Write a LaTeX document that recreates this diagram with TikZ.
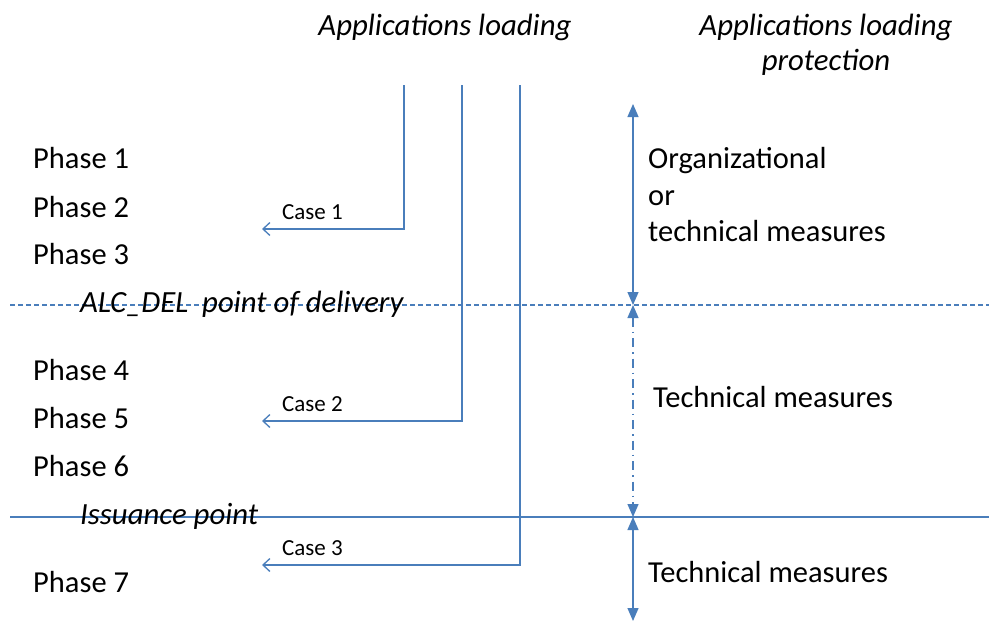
\documentclass[tikz,border=0pt]{standalone}
\usepackage{fontspec}
\setmainfont{Carlito}
\usetikzlibrary{arrows.meta}
\definecolor{lineblue}{RGB}{74,126,187}
\begin{document}
\begin{tikzpicture}[x=1pt,y=-1pt,
  big/.style={font=\fontsize{30.5}{36}\selectfont, inner sep=0pt, anchor=base west},
  bigc/.style={font=\fontsize{30.8}{36}\selectfont\itshape, inner sep=0pt, anchor=base},
  bigi/.style={font=\fontsize{30.8}{36}\selectfont\itshape, inner sep=0pt, anchor=base west},
  small/.style={font=\fontsize{23}{27}\selectfont, inner sep=0pt, anchor=base west},
  hline/.style={draw=lineblue, line width=1.6pt},
  caseline/.style={draw=lineblue, line width=1.3pt, -{Straight Barb[length=7pt,width=13pt]}},
  measure/.style={draw=lineblue, line width=1.3pt, {Triangle[length=13pt,width=11pt,fill=lineblue]}-{Triangle[length=13pt,width=11pt,fill=lineblue]}},
]
\useasboundingbox (0,0) rectangle (990,621);

% titles
\node[bigc] (t1) at (445,35) {Applications loading};
\node[bigc] (t2) at (826,35) {Applications loading};
\node[bigc] (t3) at (826,70) {protection};

% phases
\node[big] (p1) at (33,168) {Phase 1};
\node[big] (p2) at (33,217) {Phase 2};
\node[big] (p3) at (33,264) {Phase 3};
\node[big] (p4) at (33,380) {Phase 4};
\node[big] (p5) at (33,428) {Phase 5};
\node[big] (p6) at (33,476) {Phase 6};
\node[big] (p7) at (33,592) {Phase 7};

% horizontal separators
\coordinate (d1) at (10,305);
\coordinate (d2) at (989,305);
\coordinate (s1) at (10,517);
\coordinate (s2) at (989,517);
\draw[hline, dash pattern=on 5pt off 3pt] (d1) -- (d2);
\draw[hline] (s1) -- (s2);
\node[bigi] (alc) at (80,312) {ALC\_DEL\ \ point of delivery};
\node[bigi] (iss) at (80,524) {Issuance point};

% case connectors
\coordinate (a1) at (404,85);
\coordinate (a1c) at (404,229);
\coordinate (a1e) at (262,229);
\coordinate (a2) at (462,85);
\coordinate (a2c) at (462,421);
\coordinate (a2e) at (262,421);
\coordinate (a3) at (520,85);
\coordinate (a3c) at (520,565);
\coordinate (a3e) at (262,565);
\draw[caseline] (a1) -- (a1c) -- (a1e);
\draw[caseline] (a2) -- (a2c) -- (a2e);
\draw[caseline] (a3) -- (a3c) -- (a3e);
\node[small] (c1) at (282,219) {Case 1};
\node[small] (c2) at (282,411) {Case 2};
\node[small] (c3) at (282,555) {Case 3};

% protection arrows
\coordinate (m0) at (633,104);
\coordinate (m1) at (633,305);
\coordinate (m2) at (633,517);
\coordinate (m3) at (633,621);
\draw[measure] (m0) -- (m1);
\draw[measure, dash pattern=on 9pt off 5pt on 1.5pt off 5pt] (m1) -- (m2);
\draw[measure] (m2) -- (m3);

\node[big] (o1) at (648,168) {Organizational};
\node[big] (o2) at (648,205) {or};
\node[big] (o3) at (648,241) {technical measures};
\node[big] (tm1) at (653,407) {Technical measures};
\node[big] (tm2) at (648,582) {Technical measures};
\end{tikzpicture}
\end{document}
